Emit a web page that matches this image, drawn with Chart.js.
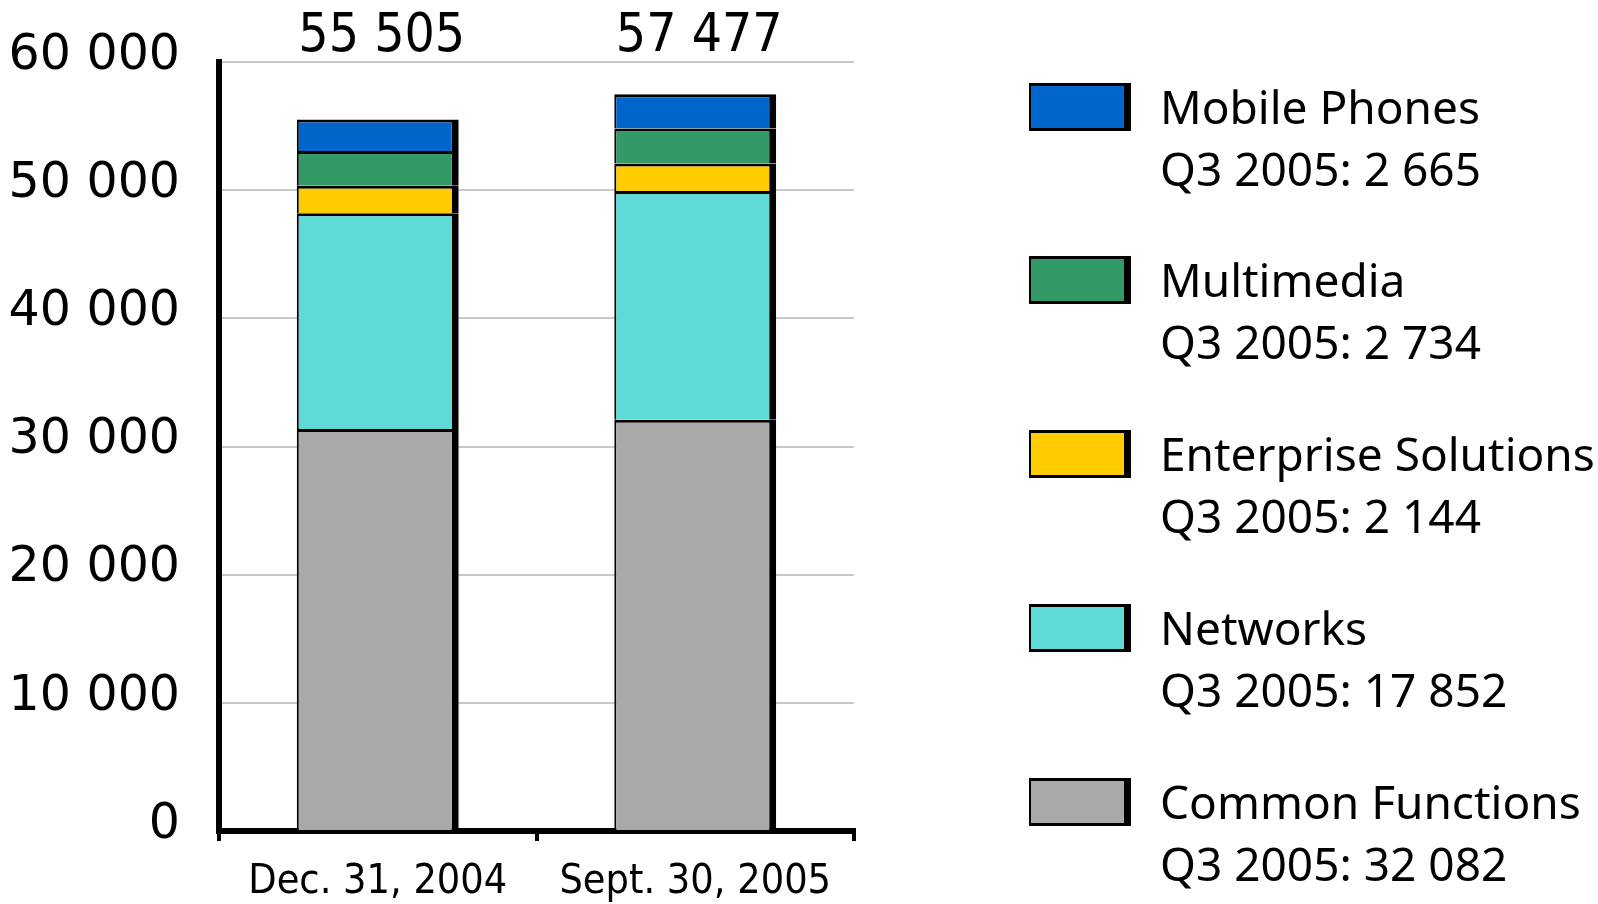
<!DOCTYPE html>
<html>
<head>
<meta charset="utf-8">
<script src="https://cdn.jsdelivr.net/npm/chart.js@4/dist/chart.umd.min.js"></script>
<style>
  html, body { margin: 0; padding: 0; background: #fff; }
  #wrap { position: relative; width: 1598px; height: 904px; overflow: hidden; }
  #grafico { position: absolute; left: 0; top: 0; }
  #legenda { position: absolute; left: 0; top: 0; font-family: 'Noto Sans', sans-serif; font-size: 46px; color: #000; }
  .item { position: absolute; left: 1029px; width: 560px; height: 130px; }
  .caixa { position: absolute; left: 0; top: 0; width: 102px; height: 48px; box-sizing: border-box;
           border-style: solid; border-color: #000; border-width: 3px 7px 3px 2px; }
  .linha { position: absolute; left: 131px; line-height: 62px; white-space: nowrap; }
</style>
</head>
<body>
<div id="wrap">
  <canvas id="grafico" width="1598" height="904"></canvas>
  <div id="legenda"></div>
</div>
<script>
// Categories and series (headcount), bottom of the stack first
const labels = ['Dec. 31, 2004', 'Sept. 30, 2005'];
const commonFunctions = [31370, 32082];
const networks = [16820, 17852];
const enterpriseSolutions = [2160, 2144];
const multimedia = [2700, 2734];
const mobilePhones = [2455, 2665];

// Y axis ticks
const yMin = 0;
const yMax = 60000;
const yStep = 10000;

const legendPrefix = 'Q3 2005: ';

const series = [
  { name: 'Common Functions', data: commonFunctions, color: '#a9a9a9' },
  { name: 'Networks', data: networks, color: '#5edbd6' },
  { name: 'Enterprise Solutions', data: enterpriseSolutions, color: '#ffcc00' },
  { name: 'Multimedia', data: multimedia, color: '#339966' },
  { name: 'Mobile Phones', data: mobilePhones, color: '#0066cc' }
];

// 55505 -> "55 505"
function fmt(n) {
  return String(n).replace(/\B(?=(\d{3})+(?!\d))/g, ' ');
}

const narrowFont = "'DejaVu Sans Condensed', 'Liberation Sans Narrow', 'DejaVu Sans', sans-serif";

// Totals written above each bar
const totais = {
  id: 'totais',
  afterDatasetsDraw(chart) {
    const ctx = chart.ctx;
    const meta = chart.getDatasetMeta(chart.data.datasets.length - 1);
    ctx.save();
    ctx.font = '53px ' + narrowFont;
    ctx.fillStyle = '#000';
    ctx.textAlign = 'center';
    ctx.textBaseline = 'middle';
    meta.data.forEach((bar, i) => {
      const total = series.reduce((s, d) => s + d.data[i], 0);
      ctx.fillText(fmt(total), bar.x + 4, chart.chartArea.top - 25);
    });
    ctx.restore();
  }
};

const ctx = document.getElementById('grafico').getContext('2d');

const grafico = new Chart(ctx, {
  type: 'bar',
  data: {
    labels: labels,
    datasets: series.map(s => ({
      label: s.name,
      data: s.data,
      backgroundColor: s.color,
      borderColor: '#000',
      borderWidth: { top: 3, right: 7, bottom: 0, left: 2 },
      borderSkipped: 'start',
      categoryPercentage: 1,
      barPercentage: 0.51
    }))
  },
  options: {
    responsive: false,
    animation: false,
    devicePixelRatio: 1,
    layout: { padding: { top: 62, right: 744, bottom: 0, left: 0 } },
    plugins: {
      legend: { display: false },
      tooltip: { enabled: false }
    },
    scales: {
      x: {
        stacked: true,
        afterFit(scale) { scale.height = 73; },
        border: { color: '#000', width: 6 },
        grid: { offset: true, drawOnChartArea: false, color: '#000', lineWidth: 4, tickLength: 10 },
        ticks: {
          color: '#000',
          padding: 17,
          maxRotation: 0,
          font: { family: narrowFont, size: 41 }
        }
      },
      y: {
        stacked: true,
        min: yMin,
        max: yMax,
        afterFit(scale) {
          scale.width = 219;
          // labels may overflow the chart area, the layout padding handles it
          scale.paddingTop = 0;
          scale.paddingBottom = 0;
        },
        border: { color: '#000', width: 6 },
        grid: { color: '#c8c8c8', lineWidth: 2, drawTicks: false },
        ticks: {
          stepSize: yStep,
          color: '#000',
          padding: 39,
          labelOffset: -6,
          font: { family: "'DejaVu Sans', sans-serif", size: 49 },
          callback: v => fmt(v)
        }
      }
    }
  },
  plugins: [totais]
});

// Legend on the right, top item = top of the stack
const legenda = document.getElementById('legenda');
series.slice().reverse().forEach((s, i) => {
  const item = document.createElement('div');
  item.className = 'item';
  item.style.top = (82.5 + i * 173.8) + 'px';

  const caixa = document.createElement('div');
  caixa.className = 'caixa';
  caixa.style.background = s.color;
  item.appendChild(caixa);

  const l1 = document.createElement('div');
  l1.className = 'linha';
  l1.style.top = '-8px';
  l1.textContent = s.name;
  item.appendChild(l1);

  const l2 = document.createElement('div');
  l2.className = 'linha';
  l2.style.top = '54px';
  l2.textContent = legendPrefix + fmt(s.data[s.data.length - 1]);
  item.appendChild(l2);

  legenda.appendChild(item);
});
</script>
</body>
</html>
